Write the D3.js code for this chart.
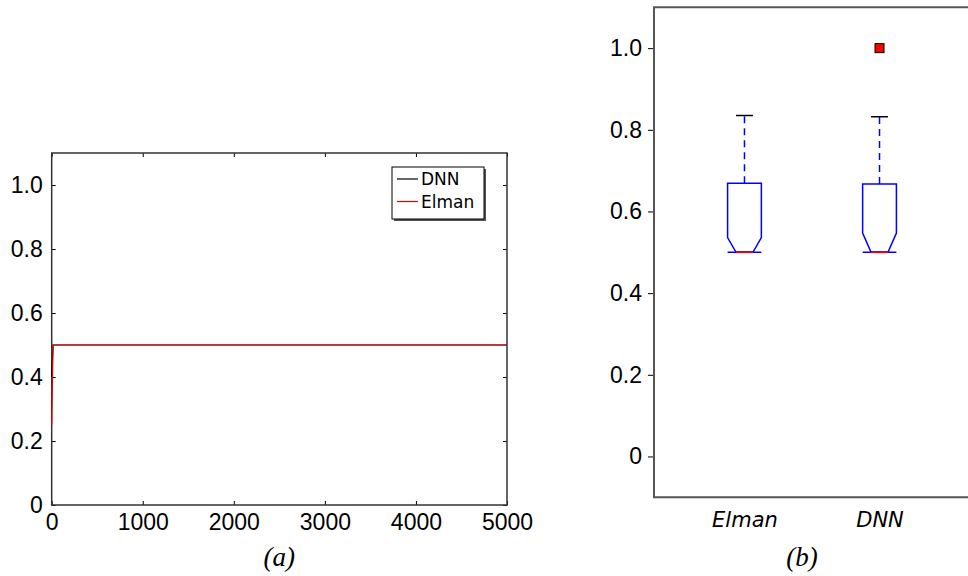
<html>
    <head>
        <style>
            body { margin: 0; background: #fff; }
            svg { display: block; }
            .tick text { font-family: "Liberation Sans", Arial, sans-serif; font-size: 23px; fill: #000; }
            .tick line { stroke: #000; }
            .frame { fill: none; stroke: #333; stroke-width: 1.5px; }
            .frameb { fill: none; stroke: #555; stroke-width: 2px; }
            .caption { font-family: "Liberation Serif", serif; font-style: italic; font-size: 27px; }
        </style>
    </head>
    <body>
        <div id="chart"></div>
        <script src="https://d3js.org/d3.v7.min.js"></script>
        <script>
            // (a) accuracy over iterations
            const iterations = [0, 15, 5000];
            const dnnAcc = [0.4, 0.5, 0.5];
            const elmanAcc = [0.25, 0.5, 0.5];
            const xTicksA = [0, 1000, 2000, 3000, 4000, 5000];
            const yTicks = [0, 0.2, 0.4, 0.6, 0.8, 1.0];

            // (b) box plot stats
            const categories = ['Elman', 'DNN'];
            const q1 = [0.5, 0.5];
            const median = [0.5, 0.5];
            const q3 = [0.669, 0.667];
            const notchHi = [0.536, 0.547];
            const whiskerHi = [0.835, 0.832];
            const whiskerLo = [0.5, 0.5];
            const outliers = [[], [1.0]];

            const svg = d3.select('#chart')
                .append('svg')
                .attr('width', 968)
                .attr('height', 576);

            const fmt = d => d === 0 ? '0' : d3.format('.1f')(d);

            // ---------- panel (a) ----------
            const a = { left: 51.7, right: 507, top: 153, bottom: 505 };
            const xA = d3.scaleLinear().domain([0, 5000]).range([a.left, a.right]);
            const yA = d3.scaleLinear().domain([0, 1.1]).range([a.bottom, a.top]);

            const gA = svg.append('g');

            gA.append('g')
                .attr('transform', `translate(${a.left},0)`)
                .call(d3.axisLeft(yA).tickValues(yTicks).tickFormat(fmt).tickSizeInner(-4).tickSizeOuter(0).tickPadding(9))
                .call(g => g.select('.domain').remove());
            gA.append('g')
                .attr('transform', `translate(${a.right},0)`)
                .call(d3.axisRight(yA).tickValues(yTicks).tickFormat('').tickSizeInner(-4).tickSizeOuter(0))
                .call(g => g.select('.domain').remove());
            gA.append('g')
                .attr('transform', `translate(0,${a.bottom})`)
                .call(d3.axisBottom(xA).tickValues(xTicksA).tickFormat(d3.format('d')).tickSizeInner(-4).tickSizeOuter(0).tickPadding(9))
                .call(g => g.select('.domain').remove());
            gA.append('g')
                .attr('transform', `translate(0,${a.top})`)
                .call(d3.axisTop(xA).tickValues(xTicksA).tickFormat('').tickSizeInner(-4).tickSizeOuter(0))
                .call(g => g.select('.domain').remove());

            gA.append('rect')
                .attr('class', 'frame')
                .attr('x', a.left).attr('y', a.top)
                .attr('width', a.right - a.left).attr('height', a.bottom - a.top);

            const line = d3.line()
                .x(d => xA(d[0]))
                .y(d => yA(d[1]));

            gA.append('path')
                .datum(iterations.map((t, i) => [t, dnnAcc[i]]))
                .attr('d', line)
                .attr('fill', 'none')
                .attr('stroke', '#000')
                .attr('stroke-width', 1.2);

            gA.append('path')
                .datum(iterations.map((t, i) => [t, elmanAcc[i]]))
                .attr('d', line)
                .attr('fill', 'none')
                .attr('stroke', '#e00000')
                .attr('stroke-width', 1.2);

            // legend
            const legend = gA.append('g').attr('transform', 'translate(392,167)');
            legend.append('rect')
                .attr('x', 2).attr('y', 2).attr('width', 92).attr('height', 52)
                .attr('fill', '#555');
            legend.append('rect')
                .attr('width', 92).attr('height', 52)
                .attr('fill', '#fff').attr('stroke', '#000').attr('stroke-width', 1);
            const legendItems = [['DNN', '#000'], ['Elman', '#e00000']];
            legendItems.forEach((d, i) => {
                const yy = 12 + i * 22.5;
                legend.append('line')
                    .attr('x1', 5).attr('x2', 26).attr('y1', yy).attr('y2', yy)
                    .attr('stroke', d[1]).attr('stroke-width', 1.2);
                legend.append('text')
                    .attr('x', 29).attr('y', yy + 6)
                    .style('font-family', '"DejaVu Sans", sans-serif')
                    .style('font-size', '17px')
                    .text(d[0]);
            });

            gA.append('text')
                .attr('class', 'caption')
                .attr('x', (a.left + a.right) / 2)
                .attr('y', 566)
                .attr('text-anchor', 'middle')
                .text('(a)');

            // ---------- panel (b) ----------
            const b = { left: 654, right: 970, top: 7.3, bottom: 497.3 };
            const xB = d3.scalePoint().domain(categories).range([b.left, b.right]).padding(0.67);
            const yB = d3.scaleLinear().domain([-0.1, 1.1]).range([b.bottom, b.top]);
            const boxW = xB.step() * 0.25;

            const gB = svg.append('g');

            gB.append('g')
                .attr('transform', `translate(${b.left},0)`)
                .call(d3.axisLeft(yB).tickValues(yTicks).tickFormat(fmt).tickSizeInner(6).tickSizeOuter(0).tickPadding(6))
                .call(g => g.select('.domain').remove());

            gB.append('path')
                .attr('class', 'frameb')
                .attr('d', `M${b.right},${b.top}H${b.left}V${b.bottom}H${b.right}`);

            gB.append('g')
                .attr('transform', `translate(0,${b.bottom})`)
                .call(d3.axisBottom(xB).tickSize(0).tickPadding(15))
                .call(g => g.select('.domain').remove())
                .call(g => g.selectAll('text')
                    .style('font-family', '"DejaVu Sans", sans-serif')
                    .style('font-style', 'italic')
                    .style('font-size', '21px'));

            const boxes = gB.selectAll('.box')
                .data(categories)
                .enter()
                .append('g')
                .attr('class', 'box');

            // upper whisker
            boxes.append('line')
                .attr('x1', d => xB(d)).attr('x2', d => xB(d))
                .attr('y1', (d, i) => yB(q3[i])).attr('y2', (d, i) => yB(whiskerHi[i]))
                .attr('stroke', '#0000ff').attr('stroke-width', 1.5)
                .attr('stroke-dasharray', '7,5');
            // lower whisker
            boxes.append('line')
                .attr('x1', d => xB(d)).attr('x2', d => xB(d))
                .attr('y1', (d, i) => yB(q1[i])).attr('y2', (d, i) => yB(whiskerLo[i]))
                .attr('stroke', '#0000ff').attr('stroke-width', 1.5)
                .attr('stroke-dasharray', '7,5');
            // caps
            boxes.append('line')
                .attr('x1', d => xB(d) - boxW / 4).attr('x2', d => xB(d) + boxW / 4)
                .attr('y1', (d, i) => yB(whiskerHi[i])).attr('y2', (d, i) => yB(whiskerHi[i]))
                .attr('stroke', '#000').attr('stroke-width', 1.5);
            boxes.append('line')
                .attr('x1', d => xB(d) - boxW / 4).attr('x2', d => xB(d) + boxW / 4)
                .attr('y1', (d, i) => yB(whiskerLo[i])).attr('y2', (d, i) => yB(whiskerLo[i]))
                .attr('stroke', '#000').attr('stroke-width', 1.5);

            // notched box
            boxes.append('path')
                .attr('d', (d, i) => {
                    const cx = xB(d), l = cx - boxW / 2, r = cx + boxW / 2, n = boxW / 4;
                    return `M${l},${yB(q3[i])}H${r}V${yB(notchHi[i])}L${cx + n},${yB(median[i])}` +
                        `H${cx - n}L${l},${yB(notchHi[i])}Z`;
                })
                .attr('fill', 'none').attr('stroke', '#0000ff').attr('stroke-width', 1.5);
            boxes.append('line')
                .attr('x1', d => xB(d) - boxW / 2).attr('x2', d => xB(d) + boxW / 2)
                .attr('y1', (d, i) => yB(q1[i])).attr('y2', (d, i) => yB(q1[i]))
                .attr('stroke', '#0000ff').attr('stroke-width', 1.5);
            // median
            boxes.append('line')
                .attr('x1', d => xB(d) - boxW / 4).attr('x2', d => xB(d) + boxW / 4)
                .attr('y1', (d, i) => yB(median[i])).attr('y2', (d, i) => yB(median[i]))
                .attr('stroke', '#ff0000').attr('stroke-width', 1.5);

            // outliers
            boxes.selectAll('.out')
                .data((d, i) => outliers[i].map(v => [d, v]))
                .enter()
                .append('rect')
                .attr('class', 'out')
                .attr('x', d => xB(d[0]) - 4.5).attr('y', d => yB(d[1]) - 4.5)
                .attr('width', 9).attr('height', 9)
                .attr('fill', '#ff0000').attr('stroke', '#000').attr('stroke-width', 1);

            gB.append('text')
                .attr('class', 'caption')
                .attr('x', 802)
                .attr('y', 566)
                .attr('text-anchor', 'middle')
                .text('(b)');
        </script>
    </body>
</html>
